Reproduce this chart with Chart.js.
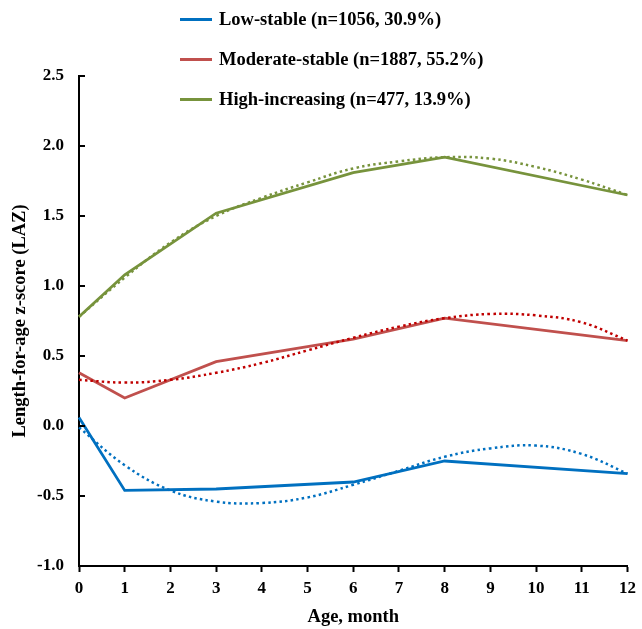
<!DOCTYPE html>
<html>
<head>
<meta charset="utf-8">
<script src="https://cdn.jsdelivr.net/npm/chart.js@4.4.1/dist/chart.umd.min.js"></script>
<style>
  html, body { margin: 0; padding: 0; background: #fff; }
  #wrap { position: relative; width: 642px; height: 629px; }
  #legend { position: absolute; left: 180px; top: 0; font-family: "Liberation Serif", "Times New Roman", serif; font-weight: bold; font-size: 18.5px; color: #000; }
  .row { position: absolute; left: 0; height: 20px; white-space: nowrap; display: flex; align-items: center; }
  .sw { width: 32px; height: 3px; margin-right: 7px; }
</style>
</head>
<body>
<div id="wrap">
  <canvas id="c" width="642" height="629"></canvas>
  <div id="legend"></div>
</div>
<script>
// ---- data ----
const obsMonths = [0, 1, 3, 6, 8, 12];
const fitMonths = [0, 1, 2, 3, 4, 5, 6, 7, 8, 9, 10, 11, 12];

const seriesNames = [
  "Low-stable (n=1056, 30.9%)",
  "Moderate-stable (n=1887, 55.2%)",
  "High-increasing (n=477, 13.9%)"
];

const lowObs      = [0.06, -0.46, -0.45, -0.40, -0.25, -0.34];
const moderateObs = [0.38, 0.20, 0.46, 0.62, 0.77, 0.61];
const highObs     = [0.78, 1.08, 1.52, 1.81, 1.92, 1.65];

const lowFit      = [-0.01, -0.28, -0.46, -0.54, -0.55, -0.51, -0.42, -0.32, -0.22, -0.16, -0.14, -0.20, -0.34];
const moderateFit = [0.33, 0.31, 0.33, 0.38, 0.45, 0.54, 0.63, 0.71, 0.77, 0.80, 0.79, 0.74, 0.61];
const highFit     = [0.78, 1.06, 1.31, 1.50, 1.63, 1.74, 1.84, 1.89, 1.92, 1.91, 1.85, 1.76, 1.65];

const yTicks = [-1.0, -0.5, 0.0, 0.5, 1.0, 1.5, 2.0, 2.5];
const xTicks = [0, 1, 2, 3, 4, 5, 6, 7, 8, 9, 10, 11, 12];

const solidColors = ["#0070C0", "#C0504D", "#77933C"];
const dotColors   = ["#0070C0", "#C00000", "#77933C"];

// ---- build datasets ----
const toXY = (xs, ys) => xs.map((x, i) => ({ x: x, y: ys[i] }));
const obsSets = [lowObs, moderateObs, highObs];
const fitSets = [lowFit, moderateFit, highFit];

const datasets = [];
fitSets.forEach((ys, i) => {
  datasets.push({
    label: seriesNames[i] + " fit",
    data: toXY(fitMonths, ys),
    borderColor: dotColors[i],
    borderWidth: 2.5,
    borderDash: [2.5, 3.2],
    pointRadius: 0,
    tension: 0.4,
    fill: false,
    clip: false
  });
});
obsSets.forEach((ys, i) => {
  datasets.push({
    label: seriesNames[i],
    data: toXY(obsMonths, ys),
    borderColor: solidColors[i],
    borderWidth: 2.8,
    pointRadius: 0,
    tension: 0,
    fill: false,
    clip: false
  });
});

// ---- HTML legend ----
const legendEl = document.getElementById("legend");
const rowTops = [9, 49, 89];
seriesNames.forEach((name, i) => {
  const row = document.createElement("div");
  row.className = "row";
  row.style.top = rowTops[i] + "px";
  const sw = document.createElement("span");
  sw.className = "sw";
  sw.style.background = solidColors[i];
  const tx = document.createElement("span");
  tx.textContent = name;
  row.appendChild(sw);
  row.appendChild(tx);
  legendEl.appendChild(row);
});

// inward y tick marks
const inwardTicks = {
  id: "inwardTicks",
  afterDraw(chart) {
    const ys = chart.scales.y;
    const ctx = chart.ctx;
    const left = chart.chartArea.left;
    ctx.save();
    ctx.strokeStyle = "#000";
    ctx.lineWidth = 2;
    yTicks.forEach(v => {
      const py = Math.round(ys.getPixelForValue(v));
      ctx.beginPath();
      ctx.moveTo(left, py);
      ctx.lineTo(left + 6, py);
      ctx.stroke();
    });
    ctx.restore();
  }
};

const font = { family: "'Liberation Serif', 'Times New Roman', serif", weight: "bold" };

new Chart(document.getElementById("c"), {
  type: "line",
  data: { datasets: datasets },
  options: {
    responsive: false,
    animation: false,
    layout: { padding: { left: 0, right: 11, top: 76, bottom: 0 } },
    plugins: { legend: { display: false }, tooltip: { enabled: false } },
    scales: {
      x: {
        type: "linear",
        min: 0, max: 12,
        afterBuildTicks(scale) { scale.ticks = xTicks.map(v => ({ value: v })); },
        afterFit(scale) { scale.height = 63; },
        grid: { display: true, drawOnChartArea: false, drawTicks: true, tickLength: 6, tickWidth: 2, tickColor: "#000" },
        border: { display: true, color: "#000", width: 2 },
        ticks: { color: "#000", font: Object.assign({ size: 17 }, font), padding: 6, maxRotation: 0 },
        title: { display: true, text: "Age, month", color: "#000", font: Object.assign({ size: 18.5 }, font), padding: { top: 2, bottom: 1 } }
      },
      y: {
        type: "linear",
        min: -1.0, max: 2.5,
        afterBuildTicks(scale) { scale.ticks = yTicks.map(v => ({ value: v })); },
        afterFit(scale) { scale.width = 79; },
        grid: { display: true, drawOnChartArea: false, drawTicks: false },
        border: { display: true, color: "#000", width: 2 },
        ticks: { color: "#000", font: Object.assign({ size: 17 }, font), padding: 15, callback: v => Number(v).toFixed(1) },
        title: { display: true, text: "Length-for-age z-score (LAZ)", color: "#000", font: Object.assign({ size: 18.5 }, font), padding: { top: 9, bottom: 0 } }
      }
    }
  },
  plugins: [inwardTicks]
});
</script>
</body>
</html>
